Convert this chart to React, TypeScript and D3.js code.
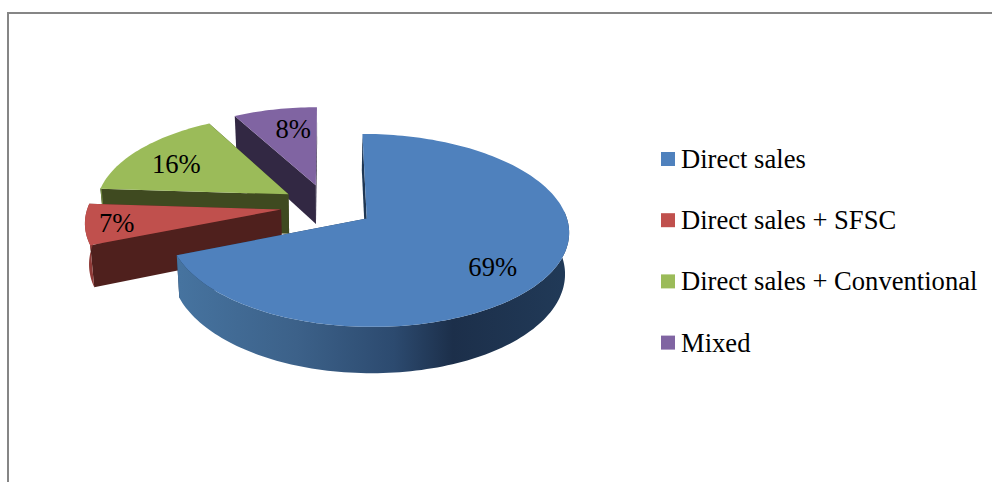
import React from "react";
import * as d3 from "d3";

// Share of farms by sales channel
const categories = ["Direct sales", "Direct sales + SFSC", "Direct sales + Conventional", "Mixed"];
const shares = [69, 7, 16, 8];
const faceColors = ["#4f81bd", "#c0504d", "#9bbb59", "#8064a2"];
const radialWallColors = ["#1f3754", "#4f201d", "#3f4a20", "#322843"];
const rimColors = ["url(#blueRim)", "#8f3a37", "#6f8740", "#5c4875"];
const labelRadii = [0.76, 0.84, 0.66, 0.6];
const labelNudgeX = [-9, 0, -12, 3];
const labelNudgeY = [6, 1, 0, -9];

const WIDTH = 992;
const HEIGHT = 482;
const FONT = "'Liberation Serif', 'Times New Roman', serif";
const TEXT_SIZE = 26.6;

// Perspective camera for the tilted pie plane
const originX = 327;
const originY = 206;
const spanX = 197;
const spanY = 92;
const tilt = 0.12;
const explode = 0.24;
const depth = 40;
const baseShrink = 0.983;
const leftSqueeze = 0.98;

type Pt = [number, number];

function screenX(u: number, s: number) {
  const dx = spanX * u * s;
  return originX + (dx < 0 ? dx * leftSqueeze : dx);
}

function project(u: number, v: number): Pt {
  const s = 1 / (1 - tilt * v);
  return [screenX(u, s), originY + spanY * v * s];
}

function extrude(u: number, v: number): Pt {
  const s = 1 / (1 - tilt * v);
  return [originX + (screenX(u, s) - originX) * baseShrink, originY + spanY * v * s + depth * s];
}

const line = d3.line<Pt>().curve(d3.curveLinear);

const arcs = d3
  .pie<number>()
  .sort(null)
  .startAngle(0)
  .endAngle(2 * Math.PI)(shares);

function sliceGeometry(startAngle: number, endAngle: number) {
  const mid = (startAngle + endAngle) / 2;
  const cu = explode * Math.sin(mid);
  const cv = -explode * Math.cos(mid);
  const at = (a: number, r = 1): [number, number] => [cu + r * Math.sin(a), cv - r * Math.cos(a)];
  const steps = Math.max(8, Math.ceil((endAngle - startAngle) * 40));
  const angles = d3.range(steps + 1).map((i) => startAngle + ((endAngle - startAngle) * i) / steps);
  return { mid, cu, cv, at, angles };
}

function wall(a: [number, number], b: [number, number]) {
  return line([project(...a), project(...b), extrude(...b), extrude(...a)])! + "Z";
}

export default function App() {
  const drawOrder = [3, 2, 1, 0];
  return (
    <svg
      width={WIDTH}
      height={HEIGHT}
      viewBox={`0 0 ${WIDTH} ${HEIGHT}`}
      style={{ position: "absolute", left: 0, top: 0, background: "#fff" }}
      fontFamily={FONT}
    >
      <defs>
        <linearGradient id="blueRim" gradientUnits="userSpaceOnUse" x1={180} x2={570} y1={0} y2={0}>
          <stop offset="0" stopColor="#46739f" />
          <stop offset="0.3" stopColor="#3c6189" />
          <stop offset="0.55" stopColor="#2c4a6f" />
          <stop offset="0.7" stopColor="#1c2f4a" />
          <stop offset="1" stopColor="#213a58" />
        </linearGradient>
      </defs>

      <path d={`M8,482V13H992`} fill="none" stroke="#868686" strokeWidth={2} />

      {drawOrder.map((i) => {
        const { startAngle, endAngle } = arcs[i];
        const g = sliceGeometry(startAngle, endAngle);
        const centre: [number, number] = [g.cu, g.cv];
        const rimTop = g.angles.map((a) => project(...g.at(a)));
        // Only the part of the rim turned toward the viewer is drawn
        const frontAngles = g.angles.filter((a) => Math.cos(a) < 0.1);
        const frontTop = frontAngles.map((a) => project(...g.at(a)));
        const frontBottom = frontAngles.map((a) => extrude(...g.at(a))).reverse();
        return (
          <g key={categories[i]}>
            <path d={wall(centre, g.at(endAngle))} fill={radialWallColors[i]} />
            <path d={wall(centre, g.at(startAngle))} fill={radialWallColors[i]} />
            {frontAngles.length > 1 && (
              <path d={line([...frontTop, ...frontBottom])! + "Z"} fill={rimColors[i]} />
            )}
            <path d={line([project(...centre), ...rimTop])! + "Z"} fill={faceColors[i]} />
          </g>
        );
      })}

      {arcs.map((arc, i) => {
        const g = sliceGeometry(arc.startAngle, arc.endAngle);
        const [x, y] = project(...g.at(g.mid, labelRadii[i]));
        return (
          <text
            key={i}
            x={x + labelNudgeX[i]}
            y={y + labelNudgeY[i]}
            fontSize={TEXT_SIZE}
            textAnchor="middle"
            dominantBaseline="central"
            fill="#000"
          >
            {d3.format(".0f")(shares[i])}%
          </text>
        );
      })}

      {categories.map((c, i) => {
        const y = 159 + i * 61.2;
        return (
          <g key={c}>
            <rect x={661} y={y - 7} width={14} height={14} fill={faceColors[i]} />
            <text x={681} y={y + 9} fontSize={TEXT_SIZE} fill="#000">
              {c}
            </text>
          </g>
        );
      })}
    </svg>
  );
}
